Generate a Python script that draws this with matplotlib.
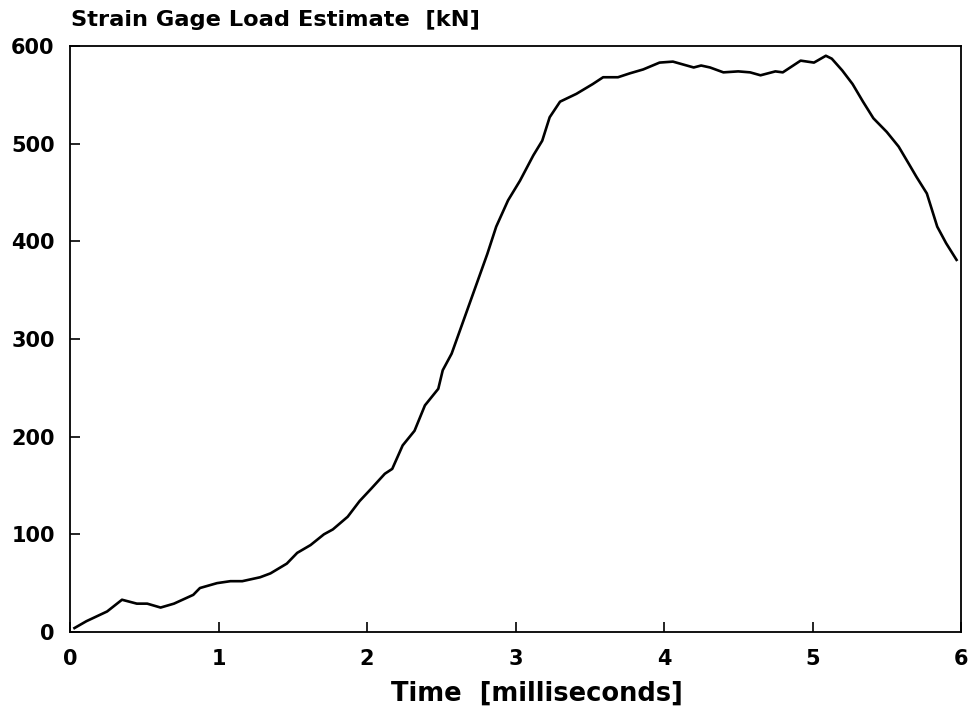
import matplotlib
matplotlib.use("Agg")
import matplotlib.pyplot as plt

# strain gage load trace
time_ms = [0.03, 0.11, 0.25, 0.35, 0.40, 0.45, 0.52, 0.61, 0.70, 0.83, 0.875,
           0.99, 1.08, 1.16, 1.28, 1.35, 1.46, 1.53, 1.62, 1.71, 1.77, 1.87,
           1.95, 2.03, 2.12, 2.17, 2.24, 2.32, 2.39, 2.48, 2.51, 2.57, 2.65,
           2.73, 2.81, 2.87, 2.95, 3.03, 3.12, 3.18, 3.23, 3.30, 3.41, 3.52,
           3.59, 3.69, 3.77, 3.86, 3.97, 4.06, 4.20, 4.25, 4.31, 4.40, 4.50,
           4.58, 4.65, 4.75, 4.80, 4.85, 4.92, 5.01, 5.09, 5.13, 5.20, 5.27,
           5.34, 5.41, 5.50, 5.58, 5.65, 5.70, 5.77, 5.84, 5.90, 5.97]
load_kn = [4, 11, 21, 33, 31, 29, 29, 25, 29, 38, 45,
           50, 52, 52, 56, 60, 70, 81, 89, 100, 105, 118,
           134, 147, 162, 167, 191, 206, 232, 249, 268, 285, 319,
           353, 387, 415, 442, 462, 488, 503, 527, 543, 551, 561,
           568, 568, 572, 576, 583, 584, 578, 580, 578, 573, 574,
           573, 570, 574, 573, 578, 585, 583, 590, 587, 575, 561,
           543, 526, 512, 497, 479, 466, 449, 415, 398, 381]

x_ticks = [0, 1, 2, 3, 4, 5, 6]
y_ticks = [0, 100, 200, 300, 400, 500, 600]

plt.rcParams['font.family'] = ['DejaVu Sans']
plt.rcParams['font.weight'] = 'bold'

fig = plt.figure(figsize=(9.71, 7.22), dpi=100)
ax = fig.add_axes([0.0721, 0.1247, 0.9176, 0.8116])

ax.plot(time_ms, load_kn, color='black', linewidth=1.9)

ax.set_xlim(0, 6)
ax.set_ylim(0, 600)
ax.set_xticks(x_ticks)
ax.set_yticks(y_ticks)
ax.tick_params(axis='both', direction='in', length=7, width=1.2, labelsize=15)
ax.tick_params(axis='x', pad=12)
ax.tick_params(axis='y', pad=11)
for lbl in ax.get_xticklabels() + ax.get_yticklabels():
    lbl.set_fontweight('bold')
for side in ax.spines.values():
    side.set_linewidth(1.3)

ax.set_xlabel('Time  [milliseconds]', fontsize=18.5, fontweight='bold')
ax.xaxis.label.set_va('center')
ax.xaxis.set_label_coords(0.524, -0.106)
fig.text(0.073, 0.972, 'Strain Gage Load Estimate  [kN]', fontsize=16.2,
         fontweight='bold', ha='left', va='center')

fig.savefig('out.png', dpi=100, facecolor='white')
